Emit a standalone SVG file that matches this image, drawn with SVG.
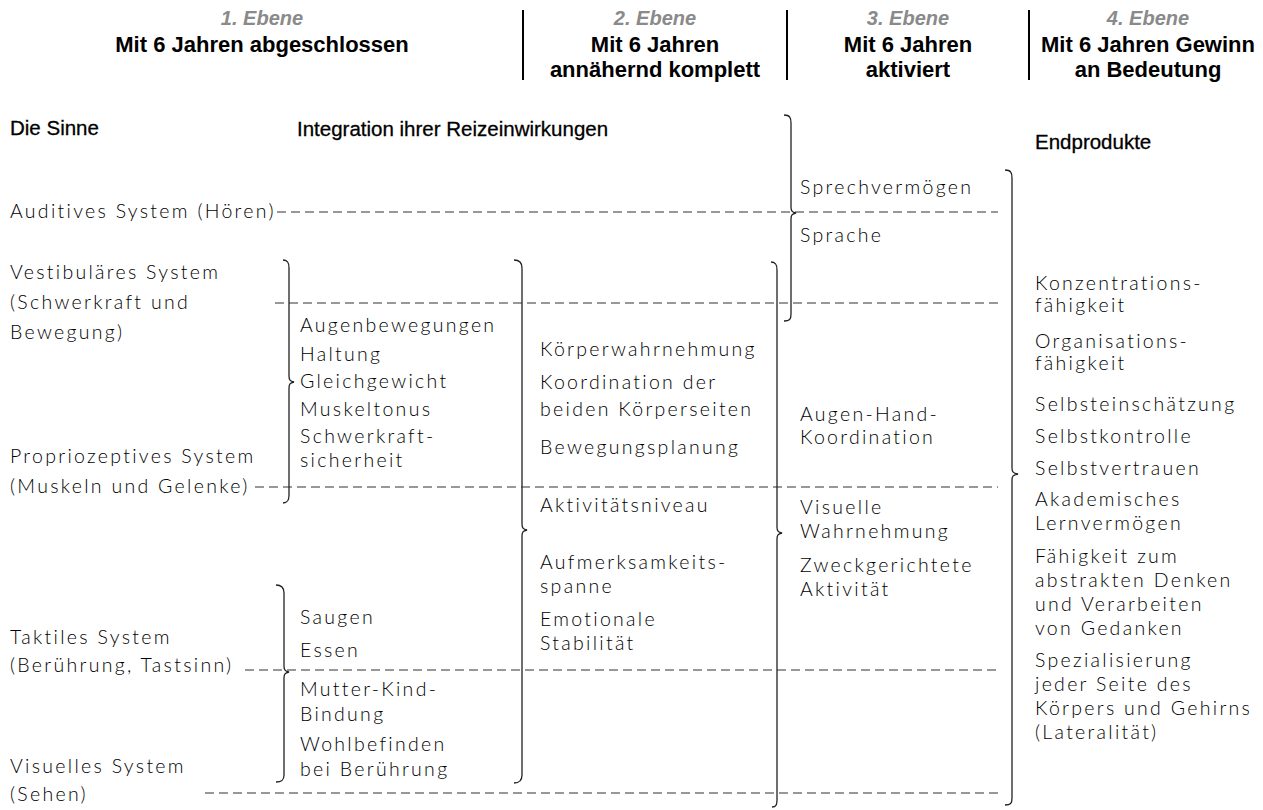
<svg xmlns="http://www.w3.org/2000/svg" width="1263" height="810" viewBox="0 0 1263 810">
<style>
.hg{font-family:"Liberation Sans",Arial,sans-serif;font-size:20px;font-weight:bold;font-style:italic;fill:#8a8a8a;text-anchor:middle}
.hb{font-family:"Liberation Sans",Arial,sans-serif;font-size:22px;font-weight:bold;fill:#000;text-anchor:middle}
.sec{font-family:"Liberation Sans",Arial,sans-serif;font-size:20.5px;fill:#000;stroke:#000;stroke-width:0.3}
.t{font-family:Lato,"DejaVu Sans",sans-serif;font-weight:300;font-size:19.5px;letter-spacing:2.3px;fill:#000}
.vl{stroke:#000;stroke-width:2}
.d{stroke:#333;stroke-width:1.2;stroke-dasharray:9 5;fill:none}
.br{stroke:#222;stroke-width:1.3;fill:none}
</style>
<rect width="1263" height="810" fill="#fff"/>
<g id="header">
<line class="vl" x1="523" y1="10" x2="523" y2="80"/>
<line class="vl" x1="787" y1="10" x2="787" y2="80"/>
<line class="vl" x1="1029" y1="10" x2="1029" y2="80"/>
<text class="hg" x="262" y="25">1. Ebene</text>
<text class="hb" x="262" y="52">Mit 6 Jahren abgeschlossen</text>
<text class="hg" x="655" y="25">2. Ebene</text>
<text class="hb" x="655" y="52">Mit 6 Jahren</text>
<text class="hb" x="655" y="77">annähernd komplett</text>
<text class="hg" x="908" y="25">3. Ebene</text>
<text class="hb" x="908" y="52">Mit 6 Jahren</text>
<text class="hb" x="908" y="77">aktiviert</text>
<text class="hg" x="1148" y="25">4. Ebene</text>
<text class="hb" x="1148" y="52">Mit 6 Jahren Gewinn</text>
<text class="hb" x="1148" y="77">an Bedeutung</text>
</g>
<g id="sections">
<text class="sec" x="10" y="135" font-size="18.5" stroke-width="0.6">Die Sinne</text>
<text class="sec" x="297" y="136">Integration ihrer Reizeinwirkungen</text>
<text class="sec" x="1035" y="149">Endprodukte</text>
</g>
<g id="connectors">
<line class="d" x1="277" y1="212" x2="998" y2="212"/>
<line class="d" x1="275" y1="303" x2="998" y2="303"/>
<line class="d" x1="255" y1="487" x2="998" y2="487"/>
<line class="d" x1="245" y1="670" x2="998" y2="670"/>
<line class="d" x1="205" y1="793" x2="998" y2="793"/>
</g>
<g id="brackets">
<path id="brA" class="br" d="M283,260 C288,260 289,263 289,268 L289,376 C289,380 290,381 294,382 C290,383 289,384 289,388 L289,495 C289,500 288,503 283,503"/>
<path id="brB" class="br" d="M276,585 C282,585 284,588 284,593 L284,666 C284,670 285,671 289,672 C285,673 284,674 284,678 L284,775 C284,780 282,782 276,782"/>
<path id="brC" class="br" d="M514,260 C520,260 522,263 522,268 L522,524 C522,528 523,529 527,530 C523,531 522,532 522,536 L522,775 C522,780 520,783 514,783"/>
<path id="brD" class="br" d="M771,262 C776,262 777,265 777,270 L777,527 C777,531 778,532 782,533 C778,534 777,535 777,539 L777,800 C777,805 776,807 772,807"/>
<path id="brE" class="br" d="M784,115 C790,115 791,118 791,123 L791,207 C791,211 792,212 796,213 C792,214 791,215 791,219 L791,314 C791,319 790,321 784,321"/>
<path id="brF" class="br" d="M1005,170 C1011,170 1012,173 1012,178 L1012,468 C1012,472 1013,473 1018,474 C1013,475 1012,476 1012,480 L1012,798 C1012,803 1011,805 1005,805"/>
</g>
<g id="senses">
<text class="t" x="10" y="218">Auditives System (Hören)</text>
<text class="t" x="10" y="279">Vestibuläres System</text>
<text class="t" x="10" y="309">(Schwerkraft und</text>
<text class="t" x="10" y="339">Bewegung)</text>
<text class="t" x="10" y="463">Propriozeptives System</text>
<text class="t" x="10" y="493">(Muskeln und Gelenke)</text>
<text class="t" x="10" y="644">Taktiles System</text>
<text class="t" x="10" y="672">(Berührung, Tastsinn)</text>
<text class="t" x="10" y="773">Visuelles System</text>
<text class="t" x="10" y="801">(Sehen)</text>
</g>
<g id="level1">
<text class="t" x="300" y="332">Augenbewegungen</text>
<text class="t" x="300" y="361">Haltung</text>
<text class="t" x="300" y="388">Gleichgewicht</text>
<text class="t" x="300" y="416">Muskeltonus</text>
<text class="t" x="300" y="443">Schwerkraft-</text>
<text class="t" x="300" y="467">sicherheit</text>
<text class="t" x="300" y="624">Saugen</text>
<text class="t" x="300" y="657">Essen</text>
<text class="t" x="300" y="696">Mutter-Kind-</text>
<text class="t" x="300" y="721">Bindung</text>
<text class="t" x="300" y="751">Wohlbefinden</text>
<text class="t" x="300" y="776">bei Berührung</text>
</g>
<g id="level2">
<text class="t" x="540" y="356">Körperwahrnehmung</text>
<text class="t" x="540" y="389">Koordination der</text>
<text class="t" x="540" y="416">beiden Körperseiten</text>
<text class="t" x="540" y="454">Bewegungsplanung</text>
<text class="t" x="540" y="512">Aktivitätsniveau</text>
<text class="t" x="540" y="569">Aufmerksamkeits-</text>
<text class="t" x="540" y="593">spanne</text>
<text class="t" x="540" y="626">Emotionale</text>
<text class="t" x="540" y="650">Stabilität</text>
</g>
<g id="level3">
<text class="t" x="800" y="194">Sprechvermögen</text>
<text class="t" x="800" y="242">Sprache</text>
<text class="t" x="800" y="421">Augen-Hand-</text>
<text class="t" x="800" y="444">Koordination</text>
<text class="t" x="800" y="514">Visuelle</text>
<text class="t" x="800" y="538">Wahrnehmung</text>
<text class="t" x="800" y="572">Zweckgerichtete</text>
<text class="t" x="800" y="596">Aktivität</text>
</g>
<g id="endprodukte">
<text class="t" x="1035" y="290">Konzentrations-</text>
<text class="t" x="1035" y="312">fähigkeit</text>
<text class="t" x="1035" y="348">Organisations-</text>
<text class="t" x="1035" y="370">fähigkeit</text>
<text class="t" x="1035" y="411">Selbsteinschätzung</text>
<text class="t" x="1035" y="443">Selbstkontrolle</text>
<text class="t" x="1035" y="475">Selbstvertrauen</text>
<text class="t" x="1035" y="506">Akademisches</text>
<text class="t" x="1035" y="530">Lernvermögen</text>
<text class="t" x="1035" y="563">Fähigkeit zum</text>
<text class="t" x="1035" y="587">abstrakten Denken</text>
<text class="t" x="1035" y="611">und Verarbeiten</text>
<text class="t" x="1035" y="635">von Gedanken</text>
<text class="t" x="1035" y="667">Spezialisierung</text>
<text class="t" x="1035" y="691">jeder Seite des</text>
<text class="t" x="1035" y="715">Körpers und Gehirns</text>
<text class="t" x="1035" y="739">(Lateralität)</text>
</g>
</svg>
